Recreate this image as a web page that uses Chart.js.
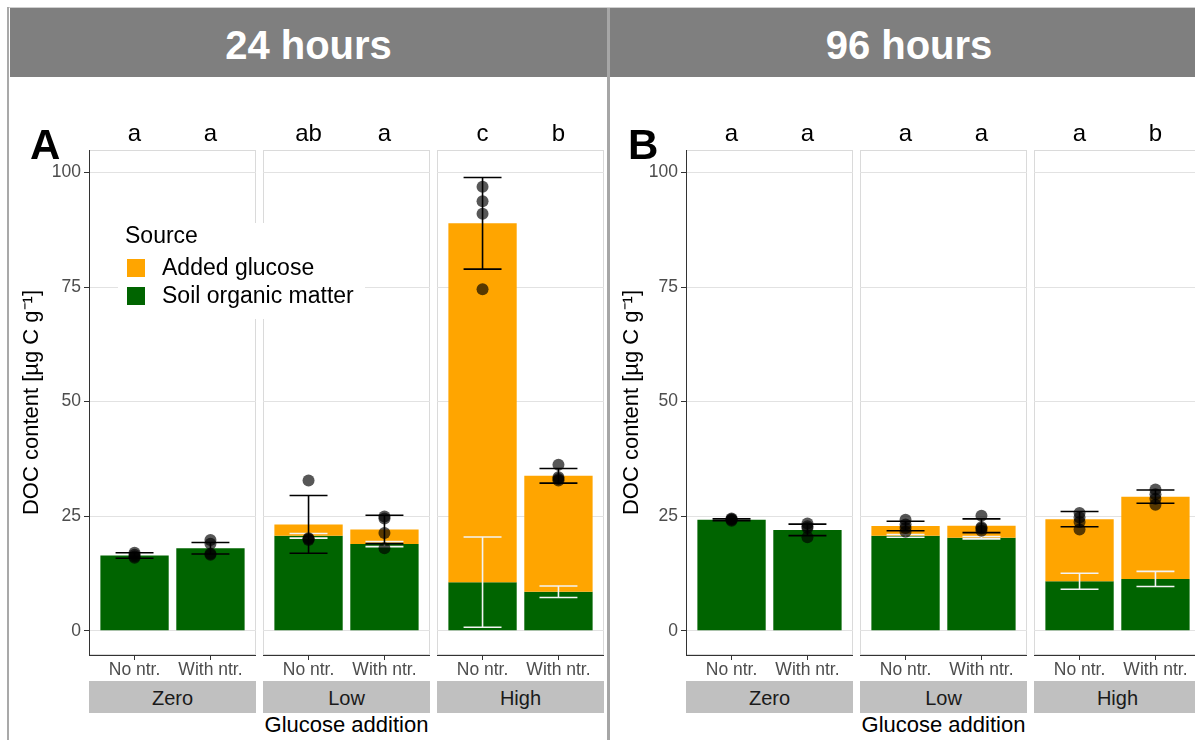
<!DOCTYPE html>
<html>
<head>
<meta charset="utf-8">
<script src="https://cdn.jsdelivr.net/npm/chart.js@4.4.1/dist/chart.umd.min.js"></script>
<style>
  html, body { margin: 0; padding: 0; background: #fff; overflow: hidden; }
  body { width: 1195px; height: 740px; position: relative; font-family: "Liberation Sans", Arial, sans-serif; }
  canvas { position: absolute; }
</style>
</head>
<body>
<script>
// ---- categories and labels ----
const treatments = ['No ntr.', 'With ntr.'];
const glucoseLevels = ['Zero', 'Low', 'High'];
const panelTitles = ['24 hours', '96 hours'];
const panelTags = ['A', 'B'];
const yTicks = [0, 25, 50, 75, 100];

// Series order: Zero/No ntr., Zero/With ntr., Low/No ntr., Low/With ntr., High/No ntr., High/With ntr.
// ---- 24 hours ----
const som24      = [16.4, 18.0, 20.7, 18.9, 10.6, 8.5];
const somErr24   = [null, null, 0.5, 0.55, 9.85, 1.25];
const total24    = [16.4, 18.0, 23.2, 22.1, 88.9, 33.8];
const totalErr24 = [0.6, 1.25, 6.3, 3.1, 10.0, 1.6];
const reps24 = [
  [17.0, 16.6, 16.2, 15.9],
  [19.8, 19.0, 16.8, 16.6],
  [32.8, 20.2, 20.0, 19.8],
  [24.9, 24.5, 21.3, 18.0],
  [96.9, 93.7, 91.0, 74.5],
  [36.2, 33.5, 33.1, 32.8]
];
const letters24 = ['a', 'a', 'ab', 'a', 'c', 'b'];

// ---- 96 hours ----
const som96      = [24.2, 22.0, 20.7, 20.3, 10.8, 11.3];
const somErr96   = [null, null, 0.3, 0.25, 1.75, 1.65];
const total96    = [24.2, 22.0, 22.85, 22.9, 24.35, 29.25];
const totalErr96 = [0.2, 1.25, 1.05, 1.5, 1.65, 1.45];
const reps96 = [
  [24.5, 24.3, 24.2, 24.0],
  [23.4, 22.8, 22.4, 20.4],
  [24.2, 23.2, 22.4, 21.6],
  [25.1, 22.6, 22.3, 21.8],
  [25.7, 24.7, 23.7, 22.1],
  [30.8, 29.8, 28.8, 27.5]
];
const letters96 = ['a', 'a', 'a', 'a', 'a', 'b'];

const seriesByPanel = [
  { som: som24, somErr: somErr24, total: total24, totalErr: totalErr24, reps: reps24, letters: letters24 },
  { som: som96, somErr: somErr96, total: total96, totalErr: totalErr96, reps: reps96, letters: letters96 }
];

// ---- layout ----
const FONT = '"Liberation Sans", Arial, sans-serif';
const FACET_W = 167, FACET_GAP = 7;
const PLOT_TOP = 150, PLOT_BOTTOM = 655, CANVAS_TOP = 110, XAXIS_H = 26;
const panelLayout = [
  { plotLeft: 89,  axisW: 79, headerLeft: 10,  headerWidth: 597, tagX: 30 },
  { plotLeft: 686, axisW: 76, headerLeft: 610, headerWidth: 598, tagX: 628 }
];
const COLORS = { som: '#006400', glucose: '#FFA500' };

Chart.defaults.font.family = FONT;
Chart.defaults.color = '#4d4d4d';

function addBox(x, y, w, h, bg) {
  const el = document.createElement('div');
  el.style.cssText = `position:absolute;left:${x}px;top:${y}px;width:${w}px;height:${h}px;background:${bg};`;
  document.body.appendChild(el);
  return el;
}
function addText(txt, x, baseline, size, o = {}) {
  const el = document.createElement('div');
  el.textContent = txt;
  el.style.cssText = `position:absolute;white-space:nowrap;font-family:${FONT};line-height:${size}px;font-size:${size}px;` +
    `top:${baseline - 0.8465 * size}px;left:${x}px;color:${o.color || '#000'};font-weight:${o.bold ? 'bold' : 'normal'};` +
    (o.center ? 'transform:translateX(-50%);' : '');
  document.body.appendChild(el);
  return el;
}

// frame, error bars and significance letters for one facet
function facetDecor(idx, d) {
  return {
    id: 'facetDecor',
    beforeDraw(chart) {
      const a = chart.chartArea, ctx = chart.ctx;
      ctx.save();
      ctx.strokeStyle = '#dadada';
      ctx.lineWidth = 1;
      ctx.strokeRect(a.left + 0.5, a.top + 0.5, a.right - a.left - 1, a.bottom - a.top - 1);
      ctx.restore();
    },
    beforeDatasetDraw(chart, args) {
      if (args.index !== 0) return;           // right before the replicate points
      const xs = chart.scales.x, ys = chart.scales.y, ctx = chart.ctx;
      const half = xs.getPixelForValue(1.25) - xs.getPixelForValue(1);
      const whisker = (pos, mean, err, color) => {
        const cx = xs.getPixelForValue(pos);
        const y1 = ys.getPixelForValue(mean + err), y2 = ys.getPixelForValue(mean - err);
        ctx.beginPath();
        ctx.moveTo(cx - half, y1); ctx.lineTo(cx + half, y1);
        ctx.moveTo(cx, y1); ctx.lineTo(cx, y2);
        ctx.moveTo(cx - half, y2); ctx.lineTo(cx + half, y2);
        ctx.strokeStyle = color;
        ctx.stroke();
      };
      ctx.save();
      ctx.lineWidth = 1.6;
      idx.forEach((i, j) => { if (d.somErr[i] != null) whisker(j + 1, d.som[i], d.somErr[i], '#f4f4f4'); });
      idx.forEach((i, j) => whisker(j + 1, d.total[i], d.totalErr[i], '#000'));
      ctx.restore();
    },
    afterDraw(chart) {
      const xs = chart.scales.x, ctx = chart.ctx;
      ctx.save();
      ctx.fillStyle = '#000';
      ctx.font = `24px ${FONT}`;
      ctx.textAlign = 'center';
      ctx.textBaseline = 'alphabetic';
      idx.forEach((i, j) => ctx.fillText(d.letters[i], xs.getPixelForValue(j + 1), chart.chartArea.top - 9));
      ctx.restore();
    }
  };
}

function buildFacet(p, k) {
  const d = seriesByPanel[p];
  const idx = [2 * k, 2 * k + 1];
  const first = k === 0;
  const boxLeft = panelLayout[p].plotLeft + k * (FACET_W + FACET_GAP);
  const padL = first ? panelLayout[p].axisW : 0;
  const cv = document.createElement('canvas');
  cv.width = FACET_W + padL;
  cv.height = PLOT_BOTTOM + XAXIS_H - CANVAS_TOP;
  cv.style.left = (boxLeft - padL) + 'px';
  cv.style.top = CANVAS_TOP + 'px';
  document.body.appendChild(cv);

  new Chart(cv, {
    type: 'bar',
    data: {
      datasets: [
        {
          type: 'scatter', label: 'Replicates', order: 0,
          data: idx.flatMap((i, j) => d.reps[i].map(v => ({ x: j + 1, y: v }))),
          pointRadius: 6, pointBorderWidth: 0,
          pointBackgroundColor: 'rgba(0,0,0,0.66)'
        },
        {
          label: 'Soil organic matter', order: 2, stack: 's',
          data: idx.map((i, j) => ({ x: j + 1, y: [0, d.som[i]] })),
          backgroundColor: COLORS.som
        },
        {
          label: 'Added glucose', order: 1, stack: 's',
          data: idx.map((i, j) => ({ x: j + 1, y: [d.som[i], d.total[i]] })),
          backgroundColor: COLORS.glucose
        }
      ]
    },
    options: {
      responsive: false,
      animation: false,
      events: [],
      layout: { autoPadding: false, padding: { top: PLOT_TOP - CANVAS_TOP, left: 0, right: 0, bottom: 0 } },
      plugins: { legend: { display: false }, tooltip: { enabled: false } },
      datasets: { bar: { categoryPercentage: 1, barPercentage: 0.9, borderWidth: 0 } },
      scales: {
        x: {
          type: 'linear', min: 0.4, max: 2.6, offset: false, stacked: true,
          afterBuildTicks: s => { s.ticks = treatments.map((t, j) => ({ value: j + 1 })); },
          afterFit: s => { s.height = XAXIS_H; s.paddingLeft = 0; s.paddingRight = 0; },
          ticks: {
            callback: v => treatments[v - 1], color: '#4d4d4d',
            font: { size: 17.5 }, padding: 0, maxRotation: 0, minRotation: 0, autoSkip: false
          },
          grid: { display: true, drawOnChartArea: false, drawTicks: true, tickLength: 5, tickColor: '#333', offset: false },
          border: { display: true, color: '#333', width: 1 }
        },
        y: {
          type: 'linear', min: -5.3, max: 104.9, stacked: false,
          afterBuildTicks: s => { s.ticks = yTicks.map(v => ({ value: v })); },
          afterFit: s => { s.width = padL; s.paddingTop = 0; s.paddingBottom = 0; },
          ticks: { display: first, color: '#4d4d4d', font: { size: 17.5 }, padding: 3 },
          grid: { color: '#e2e2e2', lineWidth: 1, drawTicks: first, tickLength: 5, tickColor: '#333' },
          border: { display: first, color: '#333', width: 1 },
          title: {
            display: first, text: 'DOC content [µg C g⁻¹]', color: '#000',
            font: { size: 22 }, padding: { top: 9, bottom: 0 }
          }
        }
      }
    },
    plugins: [facetDecor(idx, d)]
  });
  return boxLeft;
}

// ---- frame and headers ----
addBox(7, 7, 2, 733, '#a9a9a9');
addBox(607, 7, 3, 733, '#a6a6a6');
addBox(9, 7, 1190, 1, '#cfcfcf');
panelLayout.forEach((L, p) => {
  addBox(L.headerLeft, 8, L.headerWidth, 69, '#7f7f7f');
  addText(panelTitles[p], L.headerLeft + L.headerWidth / 2, 59, 40, { bold: true, color: '#fff', center: true });
});

// ---- facets, strips and axis titles ----
panelLayout.forEach((L, p) => {
  glucoseLevels.forEach((lvl, k) => {
    const boxLeft = buildFacet(p, k);
    addBox(boxLeft, 681, FACET_W, 32, '#c0c0c0');
    addText(lvl, boxLeft + FACET_W / 2, 705, 20, { color: '#1a1a1a', center: true });
  });
  const plotRight = L.plotLeft + 3 * FACET_W + 2 * FACET_GAP;
  addText('Glucose addition', (L.plotLeft + plotRight) / 2, 733, 22, { center: true });
  addText(panelTags[p], L.tagX, 160, 42, { bold: true });
});

// ---- legend ----
addBox(118, 223, 247, 96, '#fff');
addText('Source', 125, 243, 23);
addBox(127, 259, 18, 18, COLORS.glucose);
addBox(127, 287, 18, 18, COLORS.som);
addText('Added glucose', 162, 275, 23);
addText('Soil organic matter', 162, 303, 23);
</script>
</body>
</html>
